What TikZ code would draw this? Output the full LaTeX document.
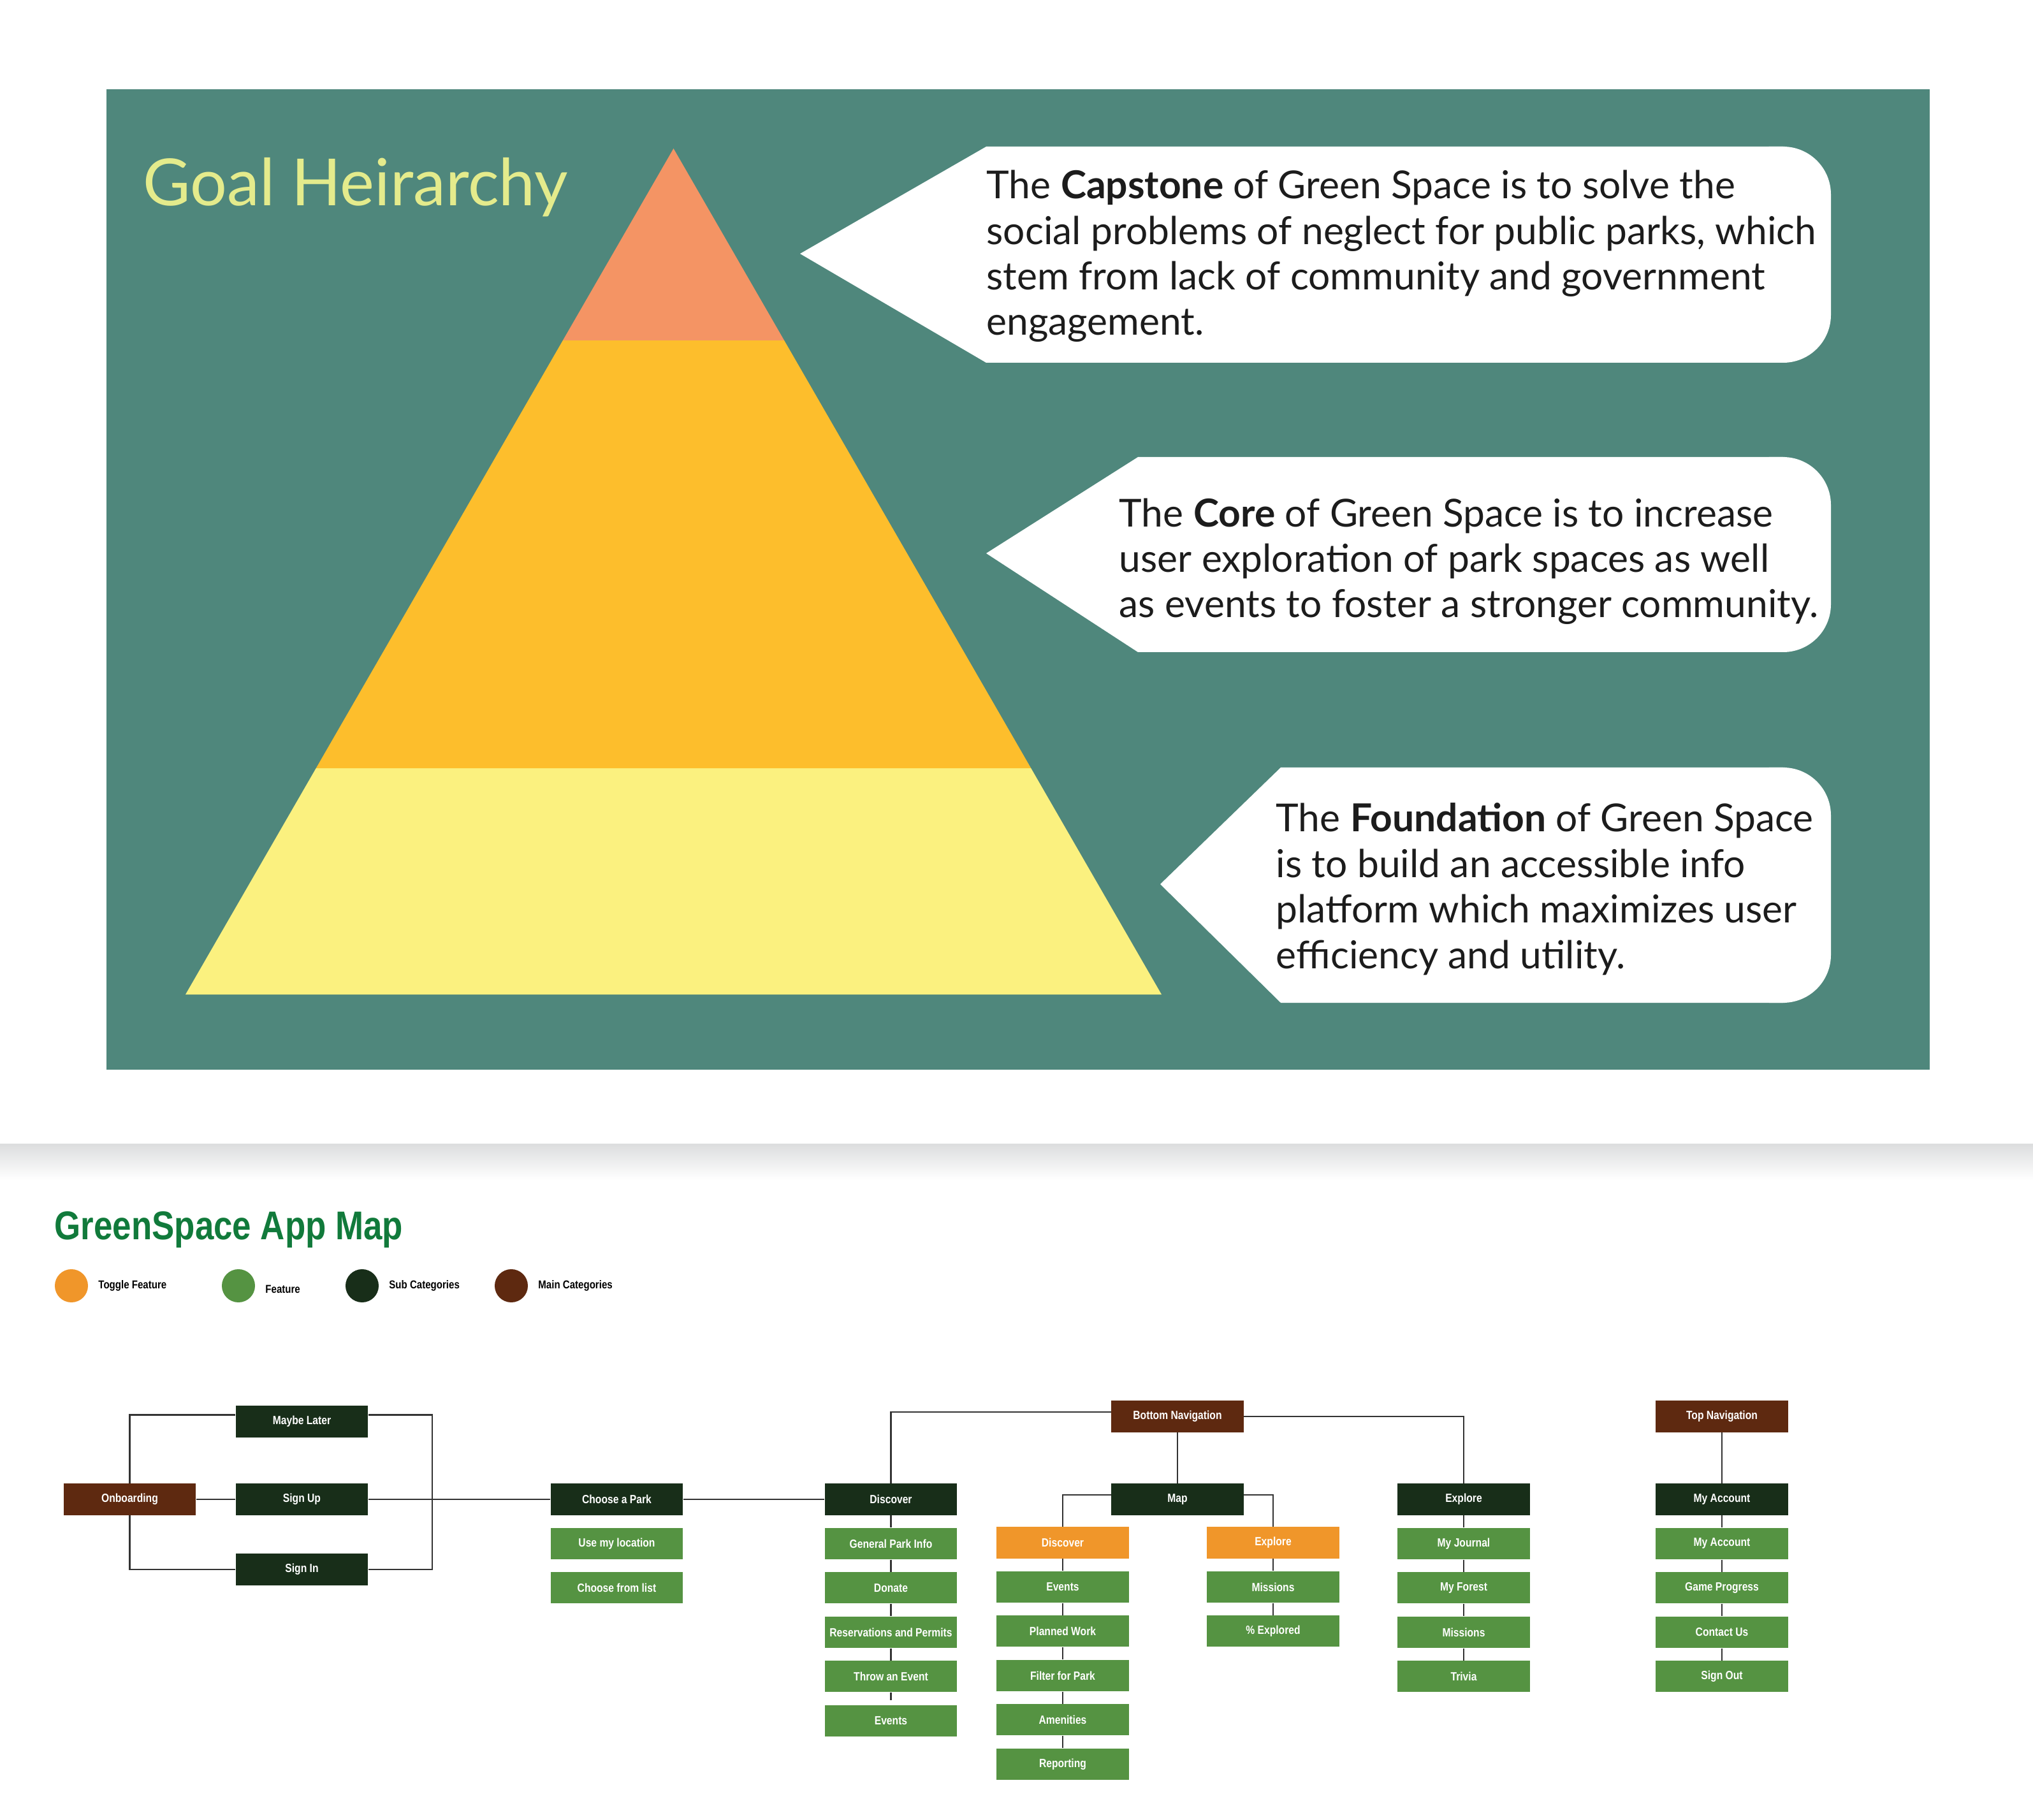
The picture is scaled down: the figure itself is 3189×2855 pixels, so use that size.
\documentclass[tikz,border=0pt]{standalone}
\usepackage{fontspec}
\setmainfont{Lato}
\newfontfamily\mapfont[FakeStretch=0.84]{Liberation Sans}
\usetikzlibrary{positioning,calc}
\definecolor{goalteal}{HTML}{4F877C}
\definecolor{goaltitle}{HTML}{E4EB8C}
\definecolor{capfill}{HTML}{F49464}
\definecolor{corefill}{HTML}{FDBE2C}
\definecolor{foundfill}{HTML}{FBF17F}
\definecolor{bubbletext}{HTML}{1C1C1C}
\definecolor{bandgrey}{HTML}{DCDDDE}
\definecolor{maptitle}{HTML}{117A3B}
\definecolor{toggorange}{HTML}{F0962A}
\definecolor{featgreen}{HTML}{559342}
\definecolor{subgreen}{HTML}{182E19}
\definecolor{mainbrown}{HTML}{5E2910}
\definecolor{linkgrey}{HTML}{333333}

\begin{document}
\begin{tikzpicture}[x=0.01cm,y=-0.01cm,node distance=0.19cm,every node/.style={inner sep=0pt}]
\tikzset{bubble/.style={fill=white},
  goaltext/.style={anchor=base west,align=left,text=bubbletext,font=\fontsize{17.2}{20.3}\selectfont},
  box/.style={minimum width=2.07cm,minimum height=0.49cm,text=white,font=\mapfont\bfseries\fontsize{5.3}{6}\selectfont},
  mainbox/.style={box,fill=mainbrown},
  subbox/.style={box,fill=subgreen},
  featbox/.style={box,fill=featgreen},
  togglebox/.style={box,fill=toggorange},
  legdot/.style={circle,minimum size=0.52cm},
  legtext/.style={right=0.15cm of #1,font=\mapfont\bfseries\fontsize{5.1}{6}\selectfont},
  link/.style={draw=linkgrey,line width=0.7pt}}
\fill[white] (0,0) rectangle (3189,2855);
% goal hierarchy panel
\fill[goalteal] (167,140) rectangle (3027,1678);
\node[anchor=base west,text=goaltitle,font=\fontsize{29}{34}\selectfont] (goaltitle) at (224,323) {Goal Heirarchy};
\coordinate (apex) at (1056.5,233);
\coordinate (pbl) at (291,1560);
\coordinate (pbr) at (1822,1560);
\fill[foundfill] (pbl) -- (pbr) -- ($(apex)!0.7325!(pbr)$) -- ($(apex)!0.7325!(pbl)$) -- cycle;
\fill[corefill] ($(apex)!0.7325!(pbl)$) -- ($(apex)!0.7325!(pbr)$) -- ($(apex)!0.2268!(pbr)$) -- ($(apex)!0.2268!(pbl)$) -- cycle;
\fill[capfill] (apex) -- ($(apex)!0.2268!(pbr)$) -- ($(apex)!0.2268!(pbl)$) -- cycle;
% capstone (anchored at the last baseline)
\fill[bubble] (1255,398) -- (1547,230) -- (2800,230) -- (2800,569) -- (1547,569) -- cycle;
\fill[bubble,rounded corners=0.75cm] (2700,230) rectangle (2872,569);
\node[goaltext] (captext) at (1547,526) {The \textbf{Capstone} of Green Space is to solve the\\social problems of neglect for public parks, which\\stem from lack of community and government\\engagement.};
% core
\fill[bubble] (1547,868) -- (1785,717) -- (2800,717) -- (2800,1023) -- (1785,1023) -- cycle;
\fill[bubble,rounded corners=0.75cm] (2700,717) rectangle (2872,1023);
\node[goaltext] (coretext) at (1755,969) {The \textbf{Core} of Green Space is to increase\\user exploration of park spaces as well\\as events to foster a stronger community.};
% foundation
\fill[bubble] (1820,1387) -- (2009,1204) -- (2800,1204) -- (2800,1573) -- (2009,1573) -- cycle;
\fill[bubble,rounded corners=0.75cm] (2700,1204) rectangle (2872,1573);
\node[goaltext] (foundtext) at (2001,1519) {The \textbf{Foundation} of Green Space\\is to build an accessible info\\platform which maximizes user\\efficiency and utility.};
% app map
\shade[top color=bandgrey,bottom color=white] (0,1794) rectangle (3189,1851);
\node[anchor=base west,text=maptitle,font=\mapfont\bfseries\fontsize{17.9}{20}\selectfont] (maptitle) at (85,1944) {GreenSpace App Map};
\node[legdot,fill=toggorange] (lgtoggle) at (112,2017) {};
\node[legtext=lgtoggle] (lgtoggletext) {Toggle Feature};
\node[legdot,fill=featgreen] (lgfeat) at (374,2017) {};
\node[legtext=lgfeat,yshift=-1.5pt] (lgfeattext) {Feature};
\node[legdot,fill=subgreen] (lgsub) at (568,2017) {};
\node[legtext=lgsub] (lgsubtext) {Sub Categories};
\node[legdot,fill=mainbrown] (lgmain) at (802,2017) {};
\node[legtext=lgmain] (lgmaintext) {Main Categories};
% onboarding
\node[mainbox] (onboard) at (203.5,2352) {Onboarding};
\node[subbox] (maybe) at (473.5,2230) {Maybe Later};
\node[subbox] (signup) at (473.5,2352) {Sign Up};
\node[subbox] (signin) at (473.5,2462) {Sign In};
\coordinate (authjoin) at (678,2352);
\node[subbox] (park) at (967.5,2352) {Choose a Park};
\node[featbox,below=of park] (parkloc) {Use my location};
\node[featbox,below=of parkloc] (parklist) {Choose from list};
% bottom navigation
\node[mainbox] (botnav) at (1847,2222) {Bottom Navigation};
\node[subbox] (discover) at (1397.5,2352) {Discover};
\node[featbox,below=of discover] (parkinfo) {General Park Info};
\node[featbox,below=of parkinfo] (donate) {Donate};
\node[featbox,below=of donate] (permits) {Reservations and Permits};
\node[featbox,below=of permits] (throw) {Throw an Event};
\node[featbox,below=of throw] (discevents) {Events};
\coordinate (throwend) at ($(throw.south)+(0,12)$);
\node[subbox] (map) at (1847,2352) {Map};
\node[togglebox] (mapdisc) at (1667,2420) {Discover};
\node[featbox,below=of mapdisc] (mapevents) {Events};
\node[featbox,below=of mapevents] (planned) {Planned Work};
\node[featbox,below=of planned] (filter) {Filter for Park};
\node[featbox,below=of filter] (amenities) {Amenities};
\node[featbox,below=of amenities] (reporting) {Reporting};
\node[togglebox] (mapexpl) at (1997,2420) {Explore};
\node[featbox,below=of mapexpl] (mapmissions) {Missions};
\node[featbox,below=of mapmissions] (explored) {\% Explored};
\node[subbox] (explore) at (2296,2352) {Explore};
\node[featbox,below=of explore] (journal) {My Journal};
\node[featbox,below=of journal] (forest) {My Forest};
\node[featbox,below=of forest] (missions) {Missions};
\node[featbox,below=of missions] (trivia) {Trivia};
% top navigation
\node[mainbox] (topnav) at (2701,2222) {Top Navigation};
\node[subbox] (account) at (2701,2352) {My Account};
\node[featbox,below=of account] (myaccount) {My Account};
\node[featbox,below=of myaccount] (progress) {Game Progress};
\node[featbox,below=of progress] (contact) {Contact Us};
\node[featbox,below=of contact] (signout) {Sign Out};
% connectors
\draw[link] (onboard.north) |- ([yshift=3pt]maybe.west);
\draw[link] ([yshift=3pt]maybe.east) -| (authjoin) |- (signin.east);
\draw[link] (onboard.south) |- (signin.west);
\draw[link] (onboard) -- (signup);
\draw[link] (signup) -- (park);
\draw[link] (park) -- (discover);
\draw[link] ([yshift=2pt]botnav.west) -| (discover.north);
\draw[link] (botnav.east) -| (explore.north);
\draw[link] (botnav) -- (map);
\draw[link] ([yshift=2pt]map.west) -| (mapdisc.north);
\draw[link] ([yshift=2pt]map.east) -| (mapexpl.north);
\foreach \a/\b in {discover/parkinfo,parkinfo/donate,donate/permits,permits/throw,mapdisc/mapevents,mapevents/planned,planned/filter,filter/amenities,amenities/reporting,mapexpl/mapmissions,mapmissions/explored,explore/journal,journal/forest,forest/missions,missions/trivia,topnav/account,account/myaccount,myaccount/progress,progress/contact,contact/signout}
  \draw[link] (\a) -- (\b);
\draw[link] (throw) -- (throwend);
\end{tikzpicture}
\end{document}
